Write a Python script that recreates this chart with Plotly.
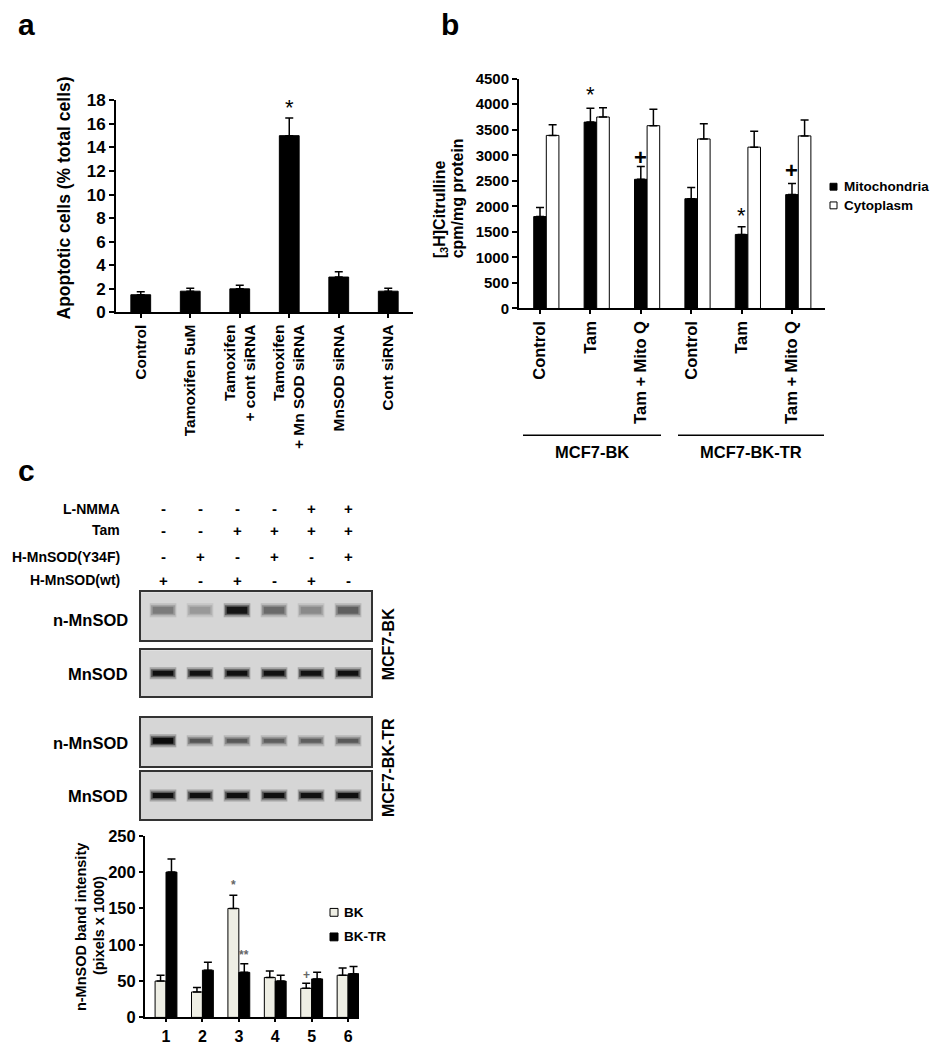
import numpy as np
import plotly.graph_objects as go

W, H = 933, 1050
def fx(p): return p / W
def fy(p): return 1 - p / H

FONT = "Arial, 'Liberation Sans', Helvetica, sans-serif"

# ---------------- data ----------------
# Panel a
a_categories = ["Control", "Tamoxifen 5uM", "Tamoxifen<br>+ cont siRNA",
                "Tamoxifen<br>+ Mn SOD siRNA", "MnSOD siRNA", "Cont siRNA"]
a_values = [1.5, 1.8, 2.0, 15.0, 3.0, 1.8]
a_errors = [0.25, 0.25, 0.3, 1.5, 0.45, 0.25]

# Panel b
b_categories = ["Control", "Tam", "Tam + Mito Q", "Control", "Tam", "Tam + Mito Q"]
b_mito = [1800, 3650, 2530, 2150, 1450, 2230]
b_mito_err = [180, 270, 250, 220, 150, 220]
b_cyto = [3390, 3750, 3580, 3320, 3160, 3380]
b_cyto_err = [210, 180, 320, 300, 310, 310]
b_groups = ["MCF7-BK", "MCF7-BK-TR"]
b_marks = ["", "*", "+", "", "*", "+"]
b_mark_y = [0, 4200, 2960, 0, 1830, 2700]

# Panel c: treatment table
c_lanes = ["1", "2", "3", "4", "5", "6"]
c_treat_rows = ["L-NMMA", "Tam", "H-MnSOD(Y34F)", "H-MnSOD(wt)"]
c_treat = [["-", "-", "-", "-", "+", "+"],
           ["-", "-", "+", "+", "+", "+"],
           ["-", "+", "-", "+", "-", "+"],
           ["+", "-", "+", "-", "+", "-"]]
# Panel c: blot band intensities (0 = none, 1 = black)
blot_rows = ["n-MnSOD", "MnSOD", "n-MnSOD", "MnSOD"]
blot_cells = ["MCF7-BK", "MCF7-BK-TR"]
blot_intensity = [[0.42, 0.28, 0.90, 0.50, 0.35, 0.55],
                  [0.93, 0.92, 0.93, 0.92, 0.92, 0.93],
                  [0.95, 0.60, 0.58, 0.55, 0.55, 0.58],
                  [0.93, 0.93, 0.93, 0.93, 0.92, 0.93]]
# Panel c: quantification
c_bk = [50, 35, 150, 55, 40, 58]
c_bk_err = [8, 6, 18, 9, 7, 10]
c_tr = [200, 65, 62, 50, 53, 60]
c_tr_err = [18, 11, 12, 8, 9, 10]
c_marks_bk = ["", "", "*", "", "+", ""]
c_marks_bk_y = [0, 0, 182, 0, 58, 0]
c_marks_tr = ["", "", "**", "", "", ""]
c_marks_tr_y = [0, 0, 86, 0, 0, 0]

# ---------------- figure ----------------
fig = go.Figure()

def err(arr):
    return dict(type="data", array=arr, arrayminus=[0] * len(arr), symmetric=False,
                color="black", thickness=1.5, width=4)

# Panel a bars
fig.add_trace(go.Bar(x=a_categories, y=a_values, width=0.4,
                     marker=dict(color="black", line=dict(color="black", width=1)),
                     error_y=err(a_errors), xaxis="x", yaxis="y", showlegend=False))

# Panel b bars
bx = np.arange(len(b_categories))
fig.add_trace(go.Bar(x=bx, y=b_mito, width=0.25, name="Mitochondria",
                     marker=dict(color="black", line=dict(color="black", width=1)),
                     error_y=err(b_mito_err), xaxis="x2", yaxis="y2", showlegend=False))
fig.add_trace(go.Bar(x=bx + 0.25, y=b_cyto, width=0.25, name="Cytoplasm",
                     marker=dict(color="white", line=dict(color="black", width=1)),
                     error_y=err(b_cyto_err), xaxis="x2", yaxis="y2", showlegend=False))

# Panel c quantification bars
cx = np.arange(len(c_lanes))
fig.add_trace(go.Bar(x=cx - 0.15, y=c_bk, width=0.3, name="BK",
                     marker=dict(color="#eeeee4", line=dict(color="black", width=1)),
                     error_y=err(c_bk_err), xaxis="x3", yaxis="y3", showlegend=False))
fig.add_trace(go.Bar(x=cx + 0.15, y=c_tr, width=0.3, name="BK-TR",
                     marker=dict(color="black", line=dict(color="black", width=1)),
                     error_y=err(c_tr_err), xaxis="x3", yaxis="y3", showlegend=False))

# Blot bands
band_thick = [8, 6, 7, 6]
for k, row in enumerate(blot_intensity):
    xa, ya = f"x{4 + k}", f"y{4 + k}"
    for i, inten in enumerate(row):
        g = int(round(212 * (1 - inten)))
        t = band_thick[k] if not (k == 2 and i > 0) else 5
        fig.add_trace(go.Scatter(x=[i - 0.36, i + 0.36], y=[0, 0], mode="lines",
                                 line=dict(color=f"rgba({g},{g},{g},0.25)", width=t + 6),
                                 xaxis=xa, yaxis=ya, showlegend=False, hoverinfo="skip"))
        fig.add_trace(go.Scatter(x=[i - 0.33, i + 0.33], y=[0, 0], mode="lines",
                                 line=dict(color=f"rgba({g},{g},{g},0.5)", width=t + 2),
                                 xaxis=xa, yaxis=ya, showlegend=False, hoverinfo="skip"))
        fig.add_trace(go.Scatter(x=[i - 0.28, i + 0.28], y=[0, 0], mode="lines",
                                 line=dict(color=f"rgb({g},{g},{g})", width=t - 1),
                                 xaxis=xa, yaxis=ya, showlegend=False, hoverinfo="skip"))

# ---------------- axes ----------------
def line_ax(size, ticklen=5):
    return dict(showline=True, linecolor="black", linewidth=2, ticks="outside",
                ticklen=ticklen, tickwidth=2, tickcolor="black", showgrid=False, zeroline=False,
                tickfont=dict(size=size, family=FONT, color="black", weight="bold"))

layout = dict(
    width=W, height=H, margin=dict(l=0, r=0, t=0, b=0),
    paper_bgcolor="white", plot_bgcolor="rgba(0,0,0,0)",
    barmode="overlay", showlegend=False,
    font=dict(family=FONT, size=14, color="black", weight="bold"),
    xaxis=dict(domain=[fx(116), fx(413)], anchor="y", type="category",
               range=[-0.5, 5.5], tickangle=-90, **line_ax(15.5, 4)),
    yaxis=dict(domain=[fy(309), fy(93)], anchor="x", range=[0, 18], dtick=2, **line_ax(17)),
    xaxis2=dict(domain=[fx(519), fx(825)], anchor="y2", range=[-0.417, 5.655],
                tickvals=list(bx), ticktext=b_categories, tickangle=-90, **line_ax(16.5, 4)),
    yaxis2=dict(domain=[fy(305), fy(71)], anchor="x2", range=[0, 4500], dtick=500, **line_ax(15)),
    xaxis3=dict(domain=[fx(145), fx(359)], anchor="y3", range=[-0.577, 5.30],
                tickvals=list(cx), ticktext=c_lanes, **line_ax(16, 3)),
    yaxis3=dict(domain=[fy(1027), fy(842)], anchor="x3", range=[0, 250], dtick=50, **line_ax(16.5, 4)),
)

blot_dom = [(594, 643), (653, 700), (722, 771), (777, 825)]
blot_yr = [[-1.25, 0.75], [-1, 1], [-1.05, 0.95], [-1, 1]]
shapes = []
for k, (top, bot) in enumerate(blot_dom):
    n = 4 + k
    layout[f"xaxis{n}"] = dict(domain=[fx(141), fx(371)], anchor=f"y{n}", range=[-0.595, 5.62],
                               showline=True, mirror=True, linecolor="#333333", linewidth=1.5,
                               showticklabels=False, ticks="", showgrid=False, zeroline=False)
    layout[f"yaxis{n}"] = dict(domain=[fy(bot), fy(top)], anchor=f"x{n}", range=blot_yr[k],
                               showline=True, mirror=True, linecolor="#333333", linewidth=1.5,
                               showticklabels=False, ticks="", showgrid=False, zeroline=False)
    shapes.append(dict(type="rect", xref=f"x{n} domain", yref=f"y{n} domain", x0=0, x1=1, y0=0, y1=1,
                       fillcolor="#d6d6d6", line=dict(width=0), layer="below"))

# ---------------- annotations ----------------
ann = []
def A(text, x, y, size=14, xanchor="center", yanchor="middle", xref="paper", yref="paper",
      angle=0, color="black", align="center", weight="bold"):
    ann.append(dict(text=text, x=x, y=y, xref=xref, yref=yref, showarrow=False,
                    xanchor=xanchor, yanchor=yanchor, textangle=angle, align=align,
                    font=dict(size=size, color=color, family=FONT, weight=weight)))

# panel letters
A("a", fx(26), fy(16), size=30)
A("b", fx(450), fy(16), size=30)
A("c", fx(26), fy(470), size=30)

# panel a
A("Apoptotic cells (% total cells)", fx(64), fy(193), size=17.5, angle=-90)
A("*", a_categories[3], 17.4, size=22, xref="x", yref="y", weight="normal")

# panel b
A("[<sub>3</sub>H]Citrulline", fx(440), fy(256), size=16, angle=-90, yanchor="bottom")
A("cpm/mg protein", fx(457), fy(256), size=16, angle=-90, yanchor="bottom")
for i, m in enumerate(b_marks):
    if m:
        A(m, bx[i], b_mark_y[i], size=22, xref="x2", yref="y2",
          weight="bold" if m == "+" else "normal")
# legend b
for lab, fill, yy in [("Mitochondria", "black", 181), ("Cytoplasm", "white", 200)]:
    shapes.append(dict(type="rect", xref="paper", yref="paper", x0=fx(830), x1=fx(837),
                       y0=fy(yy + 3.5), y1=fy(yy - 3.5), fillcolor=fill,
                       line=dict(color="black", width=1)))
    A(lab, fx(842), fy(yy), size=13.5, xanchor="left")
# group brackets
for x0, x1, lab in [(523, 661, b_groups[0]), (678, 824, b_groups[1])]:
    shapes.append(dict(type="line", xref="paper", yref="paper", x0=fx(x0), x1=fx(x1),
                       y0=fy(434), y1=fy(434), line=dict(color="black", width=1.5)))
    A(lab, fx((x0 + x1) / 2), fy(451), size=16.5)

# panel c treatment table
row_y = [509, 531, 558, 582]
for r, lab in enumerate(c_treat_rows):
    A(lab, fx(122), fy(row_y[r]), size=14, xanchor="right")
    for i, s in enumerate(c_treat[r]):
        A(s, i, fy(row_y[r]), size=15, xref="x4", yref="paper")

# blot labels
for k, lab in enumerate(blot_rows):
    top, bot = blot_dom[k]
    A(lab, fx(130), fy((top + bot) / 2 + (4 if k == 0 else 1)), size=16.5, xanchor="right")
A(blot_cells[0], fx(388), fy(647), size=16, angle=-90)
A(blot_cells[1], fx(388), fy(773), size=16, angle=-90)

# panel c chart
A("n-MnSOD band intensity", fx(81), fy(935), size=14.5, angle=-90)
A("(pixels x 1000)", fx(99), fy(934), size=14.5, angle=-90)
for i in range(len(c_lanes)):
    if c_marks_bk[i]:
        A(c_marks_bk[i], cx[i] - 0.15, c_marks_bk_y[i], size=12, xref="x3", yref="y3", color="#666666")
    if c_marks_tr[i]:
        A(c_marks_tr[i], cx[i] + 0.15, c_marks_tr_y[i], size=12, xref="x3", yref="y3", color="#666666")
for lab, fill, yy in [("BK", "#eeeee4", 920), ("BK-TR", "black", 945)]:
    shapes.append(dict(type="rect", xref="paper", yref="paper", x0=fx(330), x1=fx(338),
                       y0=fy(yy + 4), y1=fy(yy - 4), fillcolor=fill,
                       line=dict(color="black", width=1)))
    A(lab, fx(342), fy(yy), size=13.5, xanchor="left")

layout["annotations"] = ann
layout["shapes"] = shapes
fig.update_layout(**layout)
fig.write_html("out.html", config={"displayModeBar": False},
               post_script="document.body.style.margin='0';")
